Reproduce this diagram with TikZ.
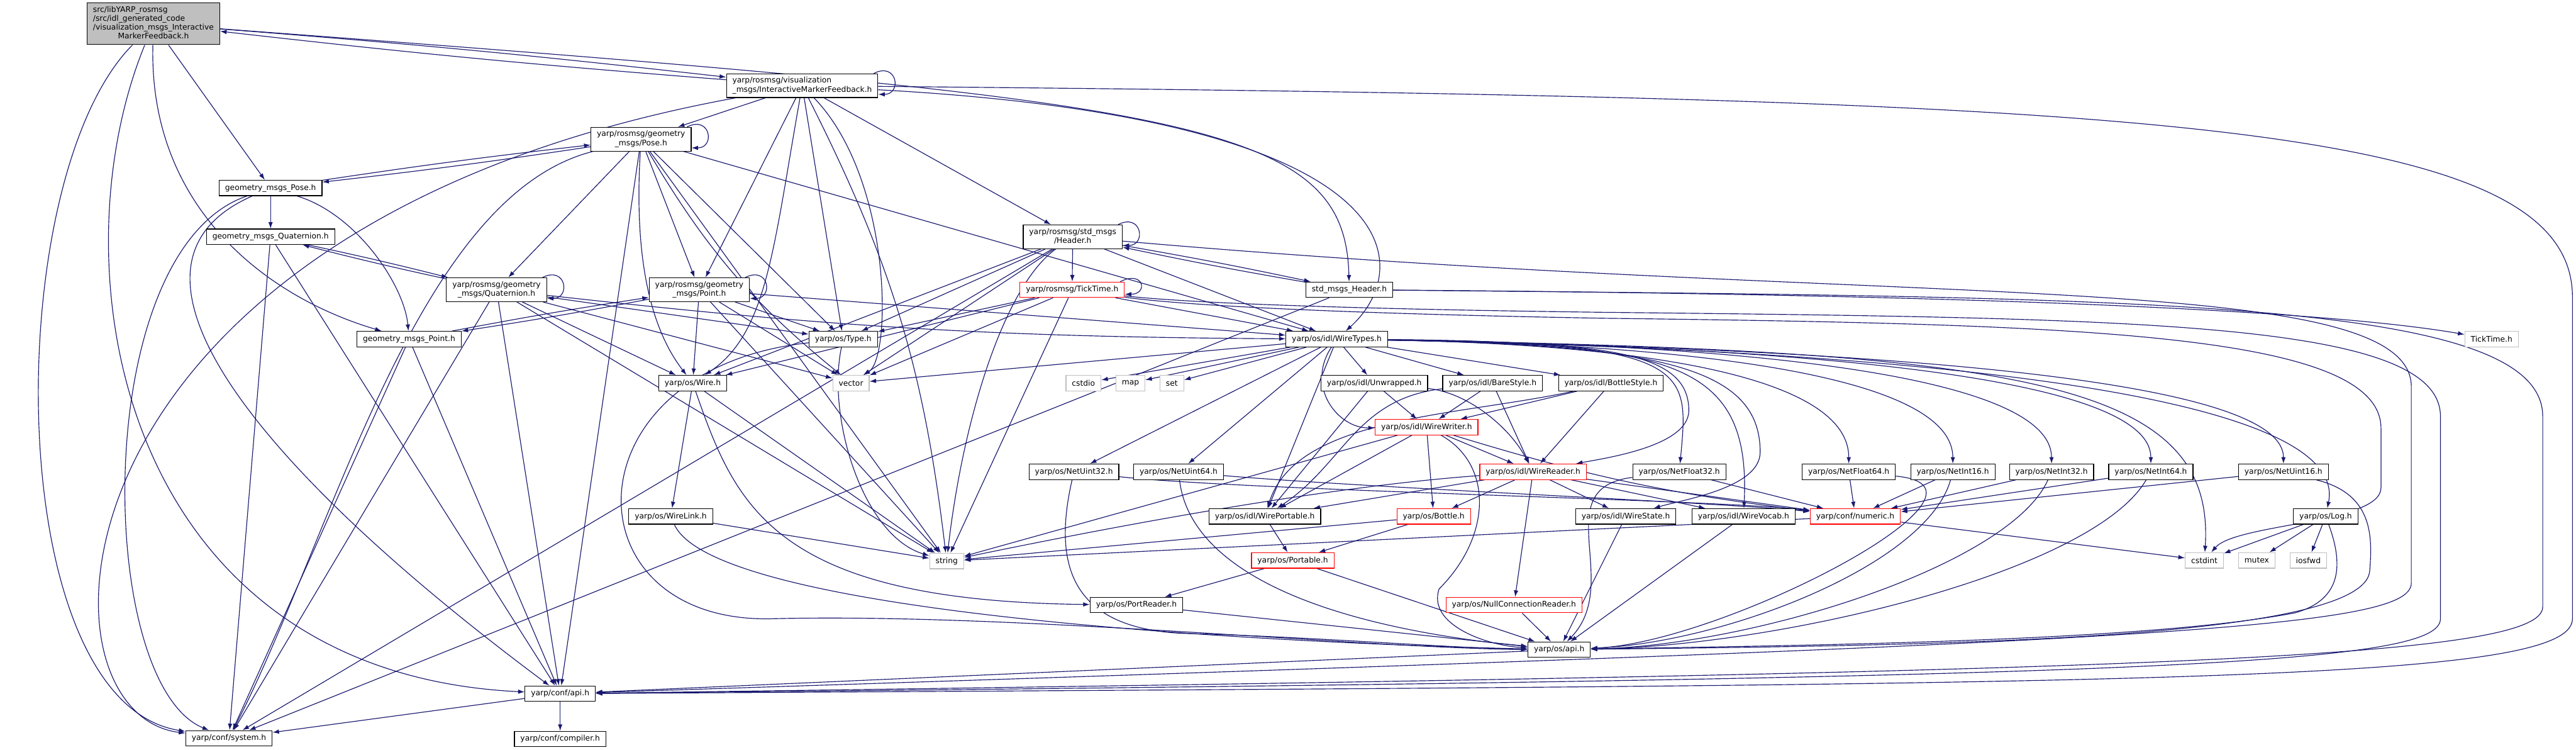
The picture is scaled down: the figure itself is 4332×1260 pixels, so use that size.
\documentclass[tikz,border=0pt]{standalone}
\usepackage{fontspec}
\setmainfont{DejaVu Sans}
\usetikzlibrary{positioning}
\usetikzlibrary{arrows.meta}
\usetikzlibrary{backgrounds}
\definecolor{linkblue}{HTML}{191970}
\definecolor{boxgray}{HTML}{BFBFBF}
\definecolor{sysgray}{HTML}{BFBFBF}
\newcommand{\dgfont}{\fontsize{7.4pt}{8.54pt}\selectfont}
\newcommand{\twolines}[2]{\begin{tabular}{@{}l@{}}#1\\\multicolumn{1}{@{}c@{}}{#2}\end{tabular}}
\newcommand{\selfloop}[1]{\draw[dep] ([xshift=-0.15cm]#1.north east) .. controls +(40,-20) and +(40,0) .. ([yshift=0.12cm]#1.south east);}

\begin{document}
\begin{tikzpicture}[x=0.02cm, y=-0.02cm, node distance=0.48cm,
  hdr/.style={draw=black, fill=white, line width=0.7pt, inner xsep=0.2cm, inner ysep=0.1cm, minimum height=0.52cm, font=\dgfont},
  hdrred/.style={hdr, draw=red},
  hdrsys/.style={hdr, draw=sysgray},
  hdrmain/.style={hdr, fill=boxgray},
  dep/.style={color=linkblue, line width=0.7pt, -{Latex[length=0.22cm,width=0.15cm]}}]
\useasboundingbox (0,0) rectangle (4332,1260);

\node[hdrmain] (main) at (258,40) {\begin{tabular}{@{}l@{}}src/libYARP\_rosmsg\\/src/idl\_generated\_code\\/visualization\_msgs\_Interactive\\\multicolumn{1}{@{}c@{}}{MarkerFeedback.h}\end{tabular}};
\node[hdr] (viz) at (1349,144) {\twolines{yarp/rosmsg/visualization}{\_msgs/InteractiveMarkerFeedback.h}};
\node[hdr] (rpose) at (1078,234) {\twolines{yarp/rosmsg/geometry}{\_msgs/Pose.h}};
\node[hdr] (gpose) at (455,316) {geometry\_msgs\_Pose.h};
\node[hdr] (gquat) at (455,398) {geometry\_msgs\_Quaternion.h};
\node[hdr] (rheader) at (1804,398) {\twolines{yarp/rosmsg/std\_msgs}{/Header.h}};
\node[hdr] (rquat) at (835,487) {\twolines{yarp/rosmsg/geometry}{\_msgs/Quaternion.h}};
\node[hdr] (rpoint) at (1176,487) {\twolines{yarp/rosmsg/geometry}{\_msgs/Point.h}};
\node[hdrred] (ticktime) at (1803,487) {yarp/rosmsg/TickTime.h};
\node[hdr] (stdheader) at (2269,487) {std\_msgs\_Header.h};
\node[hdr] (gpoint) at (688,570) {geometry\_msgs\_Point.h};
\node[hdr] (type) at (1418,570) {yarp/os/Type.h};
\node[hdr] (wiretypes) at (2248,570) {yarp/os/idl/WireTypes.h};
\node[hdrsys] (ticktimeh) at (4190,570) {TickTime.h};
\node[hdr] (wire) at (1165,644) {yarp/os/Wire.h};
\node[hdrsys] (vector) at (1431,644) {vector};
\node[hdrsys] (cstdio) at (1822,644) {cstdio};
\node[hdrsys, right=of cstdio] (map) {map};
\node[hdrsys, right=of map] (set) {set};
\node[hdr] (unwrapped) at (2311,644) {yarp/os/idl/Unwrapped.h};
\node[hdr] (barestyle) at (2510,644) {yarp/os/idl/BareStyle.h};
\node[hdr] (bottlestyle) at (2709,644) {yarp/os/idl/BottleStyle.h};
\node[hdrred] (wirewriter) at (2399,718) {yarp/os/idl/WireWriter.h};
\node[hdr] (netuint32) at (1806,793) {yarp/os/NetUint32.h};
\node[hdr] (netuint64) at (1982,793) {yarp/os/NetUint64.h};
\node[hdrred] (wirereader) at (2578,793) {yarp/os/idl/WireReader.h};
\node[hdr] (netfloat32) at (2824,793) {yarp/os/NetFloat32.h};
\node[hdr] (netfloat64) at (3109,793) {yarp/os/NetFloat64.h};
\node[hdr] (netint16) at (3284,793) {yarp/os/NetInt16.h};
\node[hdr] (netint32) at (3450,793) {yarp/os/NetInt32.h};
\node[hdr] (netint64) at (3617,793) {yarp/os/NetInt64.h};
\node[hdr] (netuint16) at (3840,793) {yarp/os/NetUint16.h};
\node[hdr] (wirelink) at (1128,868) {yarp/os/WireLink.h};
\node[hdr] (wireportable) at (2127,868) {yarp/os/idl/WirePortable.h};
\node[hdrred] (bottle) at (2411,868) {yarp/os/Bottle.h};
\node[hdr] (wirestate) at (2734,868) {yarp/os/idl/WireState.h};
\node[hdr] (wirevocab) at (2932,868) {yarp/os/idl/WireVocab.h};
\node[hdrred] (numeric) at (3120,868) {yarp/conf/numeric.h};
\node[hdr] (log) at (3911,868) {yarp/os/Log.h};
\node[hdrsys] (string) at (1592,943) {string};
\node[hdrred] (portable) at (2174,942) {yarp/os/Portable.h};
\node[hdrsys] (cstdint) at (3707,942) {cstdint};
\node[hdrsys, right=of cstdint] (mutex) {mutex};
\node[hdrsys, right=of mutex] (iosfwd) {iosfwd};
\node[hdr] (portreader) at (1911,1017) {yarp/os/PortReader.h};
\node[hdrred] (nullconn) at (2546,1017) {yarp/os/NullConnectionReader.h};
\node[hdr] (osapi) at (2622,1092) {yarp/os/api.h};
\node[hdr] (confapi) at (942,1166) {yarp/conf/api.h};
\node[hdr] (system) at (385,1241) {yarp/conf/system.h};
\node[hdr, below=0.98cm of confapi] (compiler) {yarp/conf/compiler.h};

\begin{pgfonlayer}{background}
\fill[white] (0,0) rectangle (4332,1260);
% main
\draw[dep] (main) to[bend left=1] (viz);
\draw[dep] (viz) to[bend left=1] (main);
\draw[dep] (main) .. controls (2000,170) and (2262,200) .. (stdheader);
\draw[dep] (main) .. controls (0,300) and (0,1180) .. (system);
\draw[dep] (main) .. controls (90,450) and (200,1130) .. (confapi);
\draw[dep] (main) .. controls (250,350) and (450,500) .. (gpoint);
\path[dep] (main) edge (gpose);
% viz
\selfloop{viz}
\path[dep] (viz) edge (rpose) edge (rpoint) edge (rheader) edge (type) edge[bend left=10] (string);
\draw[dep] (viz) .. controls (1500,300) and (1500,600) .. (vector);
\draw[dep] (viz) .. controls (1300,420) and (1290,560) .. (wire);
\draw[dep] (viz) .. controls (2381,200) and (2381,450) .. (wiretypes);
\draw[dep] (viz) .. controls (60,380) and (40,1200) .. (system);
\draw[dep] (viz) .. controls (3600,165) and (4326,200) .. (4326,500) -- (4326,1040) .. controls (4326,1150) and (3600,1150) .. (confapi);
% rosmsg geometry
\selfloop{rpose}
\draw[dep] (rpose) to[bend left=1] (gpose);
\draw[dep] (gpose) to[bend left=1] (rpose);
\path[dep] (rpose) edge (rquat) edge (rpoint) edge (type) edge[bend right=10] (vector) edge (string) edge (wiretypes) edge (confapi);
\draw[dep] (rpose) .. controls (1065,450) and (1100,560) .. (wire);
\draw[dep] (rpose) .. controls (700,330) and (560,900) .. (system);
\path[dep] (gpose) edge (gquat);
\draw[dep] (gpose) .. controls (600,360) and (680,480) .. (gpoint);
\draw[dep] (gpose) .. controls (150,420) and (160,1150) .. (system);
\draw[dep] (gpose) .. controls (150,450) and (450,800) .. (confapi);
\draw[dep] (gquat) to[bend left=1] (rquat);
\draw[dep] (rquat) to[bend left=1] (gquat);
\path[dep] (gquat) edge (system) edge (confapi);
\selfloop{rquat}
\path[dep] (rquat) edge (wire) edge (type) edge (vector) edge (string) edge[bend right=3] (wiretypes) edge (system) edge (confapi);
\draw[dep] (gpoint) to[bend left=1] (rpoint);
\draw[dep] (rpoint) to[bend left=1] (gpoint);
\path[dep] (gpoint) edge (system) edge (confapi);
\selfloop{rpoint}
\path[dep] (rpoint) edge (wire) edge (type) edge (vector) edge (string) edge (wiretypes);
% header and ticktime
\selfloop{rheader}
\draw[dep] (rheader) to[bend left=1] (stdheader);
\draw[dep] (stdheader) to[bend left=1] (rheader);
\path[dep] (rheader) edge (ticktime) edge (wire) edge (type) edge (vector) edge (wiretypes) edge (system);
\draw[dep] (rheader) .. controls (1690,480) and (1620,700) .. (string);
\draw[dep] (rheader) .. controls (3200,520) and (4055,450) .. (4055,650) -- (4055,980) .. controls (4055,1060) and (3600,1080) .. (confapi);
\path[dep] (stdheader) edge (system);
\draw[dep] (stdheader) .. controls (3300,495) and (3900,520) .. (ticktimeh);
\draw[dep] (stdheader) .. controls (3600,500) and (4276,500) .. (4276,700) -- (4276,1020) .. controls (4276,1110) and (3600,1130) .. (confapi);
\selfloop{ticktime}
\path[dep] (ticktime) edge (wire) edge (type) edge (vector) edge (string) edge (wiretypes);
\draw[dep] (ticktime) .. controls (2000,510) and (2300,520) .. (2700,525) .. controls (3600,535) and (4104,540) .. (4104,700) -- (4104,1040) .. controls (4104,1120) and (3600,1140) .. (confapi);
\draw[dep] (ticktime) .. controls (2000,515) and (2300,528) .. (2700,535) .. controls (3500,545) and (4004,560) .. (4004,720) -- (4004,820) .. controls (4004,880) and (3760,880) .. (cstdint);
% wire types
\path[dep] (wiretypes) edge (unwrapped) edge (barestyle) edge (bottlestyle) edge (wireportable) edge (vector) edge (cstdio) edge (map) edge (set) edge (netuint32) edge (netuint64);
\draw[dep] (wiretypes) .. controls (2195,650) and (2250,720) .. (wirewriter);
\draw[dep] (wiretypes) .. controls (2700,575) and (2840,590) .. (2840,690) .. controls (2840,750) and (2700,770) .. (wirereader);
\draw[dep] (wiretypes) .. controls (2800,580) and (2960,620) .. (2960,760) .. controls (2960,820) and (2830,840) .. (wirestate);
\draw[dep] (wiretypes) .. controls (2800,580) and (2945,600) .. (wirevocab);
\draw[dep] (wiretypes) .. controls (2850,575) and (2840,620) .. (netfloat32);
\draw[dep] (wiretypes) .. controls (2800,580) and (3109,640) .. (netfloat64);
\draw[dep] (wiretypes) .. controls (2900,580) and (3284,640) .. (netint16);
\draw[dep] (wiretypes) .. controls (3000,580) and (3450,640) .. (netint32);
\draw[dep] (wiretypes) .. controls (3100,585) and (3617,640) .. (netint64);
\draw[dep] (wiretypes) .. controls (3300,590) and (3840,650) .. (netuint16);
\draw[dep] (wiretypes) .. controls (3500,595) and (3945,700) .. (log);
\draw[dep] (wiretypes) .. controls (3400,590) and (3726,640) .. (cstdint);
\path[dep] (unwrapped) edge (wirewriter) edge (wireportable);
\draw[dep] (unwrapped) .. controls (2470,660) and (2540,720) .. (wirereader);
\path[dep] (barestyle) edge (wirewriter) edge (wirereader);
\draw[dep] (barestyle) .. controls (2280,670) and (2260,780) .. (wireportable);
\path[dep] (bottlestyle) edge (wirewriter) edge (wirereader);
\draw[dep] (bottlestyle) .. controls (2450,700) and (2180,700) .. (wireportable);
% writer and reader
\path[dep] (wirewriter) edge (wirereader) edge (wireportable) edge (bottle) edge (string) edge[bend right=5] (numeric);
\draw[dep] (wirewriter) .. controls (2510,780) and (2510,900) .. (2420,990) .. controls (2400,1050) and (2500,1085) .. (osapi);
\path[dep] (wirereader) edge (wireportable) edge (bottle) edge (nullconn) edge (wirestate) edge (wirevocab) edge (numeric);
\draw[dep] (wirereader) .. controls (2200,820) and (1800,900) .. (string);
\path[dep] (bottle) edge (portable) edge (string);
\path[dep] (wireportable) edge (portable);
\path[dep] (portable) edge (portreader) edge (osapi);
\path[dep] (portreader) edge (osapi);
% os
\path[dep] (wire) edge (wirelink) edge (string);
\draw[dep] (wire) .. controls (1237,850) and (1300,1010) .. (portreader);
\path[dep] (wirelink) edge (string);
\draw[dep] (wirelink) .. controls (1200,1030) and (2100,1080) .. (osapi);
\draw[dep] (type) .. controls (1390,700) and (1450,900) .. (string);
\draw[dep] (type) .. controls (950,620) and (950,1050) .. (1300,1040) .. controls (1700,1030) and (2300,1090) .. (osapi);
% net types
\draw[dep] (netuint32) .. controls (2100,825) and (2900,840) .. (numeric);
\draw[dep] (netuint64) .. controls (2300,820) and (2900,845) .. (numeric);
\draw[dep] (netuint32) .. controls (1770,950) and (1800,1060) .. (2000,1065) .. controls (2200,1070) and (2450,1090) .. (osapi);
\draw[dep] (netuint64) .. controls (2000,950) and (2200,1050) .. (osapi);
\path[dep] (netfloat32) edge (numeric);
\draw[dep] (netfloat32) .. controls (2600,820) and (2730,980) .. (osapi);
\path[dep] (netfloat64) edge (numeric);
\draw[dep] (netfloat64) .. controls (3400,820) and (2900,1080) .. (osapi);
\path[dep] (netint16) edge (numeric);
\draw[dep] (netint16) .. controls (3240,950) and (2900,1080) .. (osapi);
\path[dep] (netint32) edge (numeric);
\draw[dep] (netint32) .. controls (3380,950) and (2950,1085) .. (osapi);
\path[dep] (netint64) edge (numeric);
\draw[dep] (netint64) .. controls (3520,960) and (3000,1085) .. (osapi);
\path[dep] (netuint16) edge (numeric);
\draw[dep] (netuint16) .. controls (3990,830) and (3990,900) .. (3985,960) .. controls (3975,1080) and (3200,1085) .. (osapi);
\path[dep] (numeric) edge (string) edge (cstdint);
\path[dep] (log) edge (cstdint) edge (mutex) edge (iosfwd);
\draw[dep] (log) .. controls (3945,960) and (3930,1010) .. (3860,1030) .. controls (3600,1080) and (3000,1085) .. (osapi);
\path[dep] (nullconn) edge (osapi);
\path[dep] (wirestate) edge (osapi);
\path[dep] (wirevocab) edge (osapi);
\path[dep] (osapi) edge (confapi);
\path[dep] (confapi) edge (system) edge (compiler);
\end{pgfonlayer}
\end{tikzpicture}
\end{document}
